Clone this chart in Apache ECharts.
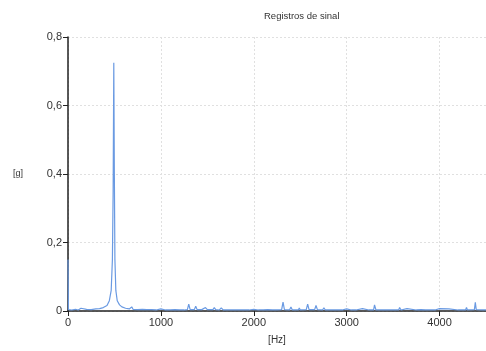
<!DOCTYPE html>
<html>
<head>
<meta charset="utf-8">
<script src="https://cdn.jsdelivr.net/npm/echarts@6/dist/echarts.min.js"></script>
<style>html,body{margin:0;padding:0;background:#fff}#c{width:486px;height:351px}</style>
</head>
<body>
<div id="c"></div>
<script>
const titleText = 'Registros de sinal';
const xName = '[Hz]';
const yName = '[g]';
const freqs = [0,5,40,80,110,140,160,200,250,300,340,380,420,445,465,478,486,493,499,505,515,530,555,580,620,660,686,700,750,800,850,900,950,1000,1050,1100,1150,1200,1250,1285,1300,1315,1360,1375,1390,1440,1480,1500,1560,1575,1590,1630,1650,1670,1720,1737,1750,1820,1833,1850,1900,1950,2000,2050,2100,2150,2200,2250,2300,2315,2330,2385,2400,2415,2480,2490,2500,2565,2580,2595,2655,2670,2685,2740,2755,2770,2850,2900,2950,3000,3050,3100,3170,3180,3240,3290,3300,3315,3400,3450,3500,3560,3570,3585,3650,3660,3750,3800,3850,3950,4000,4015,4100,4110,4200,4280,4290,4300,4375,4385,4395,4450,4500];
const values = [0.15,0.004,0.003,0.005,0.003,0.008,0.004,0.005,0.004,0.006,0.007,0.01,0.016,0.03,0.06,0.15,0.35,0.725,0.4,0.15,0.06,0.03,0.018,0.012,0.008,0.006,0.012,0.005,0.004,0.005,0.004,0.004,0.003,0.006,0.003,0.003,0.004,0.003,0.003,0.004,0.02,0.004,0.004,0.014,0.004,0.004,0.01,0.004,0.004,0.01,0.004,0.003,0.009,0.003,0.003,0.008,0.003,0.003,0.007,0.003,0.003,0.003,0.005,0.003,0.003,0.004,0.003,0.003,0.004,0.026,0.004,0.003,0.012,0.003,0.003,0.009,0.003,0.004,0.02,0.004,0.004,0.016,0.004,0.003,0.009,0.003,0.003,0.003,0.003,0.006,0.003,0.003,0.007,0.003,0.003,0.003,0.018,0.003,0.003,0.003,0.003,0.003,0.01,0.003,0.007,0.003,0.003,0.004,0.003,0.003,0.007,0.003,0.006,0.003,0.003,0.003,0.01,0.003,0.004,0.025,0.004,0.003,0.003];

const chart = echarts.init(document.getElementById('c'), null, {renderer:'canvas'});
const font = 'Liberation Sans, Arial, sans-serif';
chart.setOption({
  animation:false,
  title:{text:titleText,left:259,top:6,textStyle:{fontSize:9.5,fontWeight:'normal',color:'#333',fontFamily:font}},
  grid:{left:68,right:0,top:37,bottom:40,containLabel:false},
  xAxis:{type:'value',min:0,max:4500,interval:1000,name:xName,nameLocation:'middle',nameGap:24,
    nameTextStyle:{fontSize:10,color:'#333',fontFamily:font},
    axisLine:{show:true,onZero:false,lineStyle:{color:'#222',width:1.5}},
    axisTick:{show:true,length:5,lineStyle:{color:'#222'}},
    axisLabel:{fontSize:11,color:'#333',fontFamily:font,margin:6,showMaxLabel:false,formatter:v=>String(v)},
    splitLine:{show:true,lineStyle:{color:'#e0e0e0',type:[2,2]}}},
  yAxis:{type:'value',min:0,max:0.8,interval:0.2,name:yName,nameLocation:'middle',nameRotate:0,nameGap:45,
    nameTextStyle:{fontSize:9,color:'#333',fontFamily:font},
    axisLine:{show:true,lineStyle:{color:'#222',width:1.5}},
    axisTick:{show:true,length:5,lineStyle:{color:'#222'}},
    axisLabel:{fontSize:11,color:'#333',fontFamily:font,margin:6,formatter:v=>String(Math.round(v*10)/10).replace('.',',')},
    splitLine:{show:true,lineStyle:{color:'#e0e0e0',type:[2,2]}}},
  series:[{type:'line',data:freqs.map((f,i)=>[f,values[i]]),showSymbol:false,symbol:'none',
    lineStyle:{color:'#6a9ae2',width:1.2}}]
});
</script>
</body>
</html>
